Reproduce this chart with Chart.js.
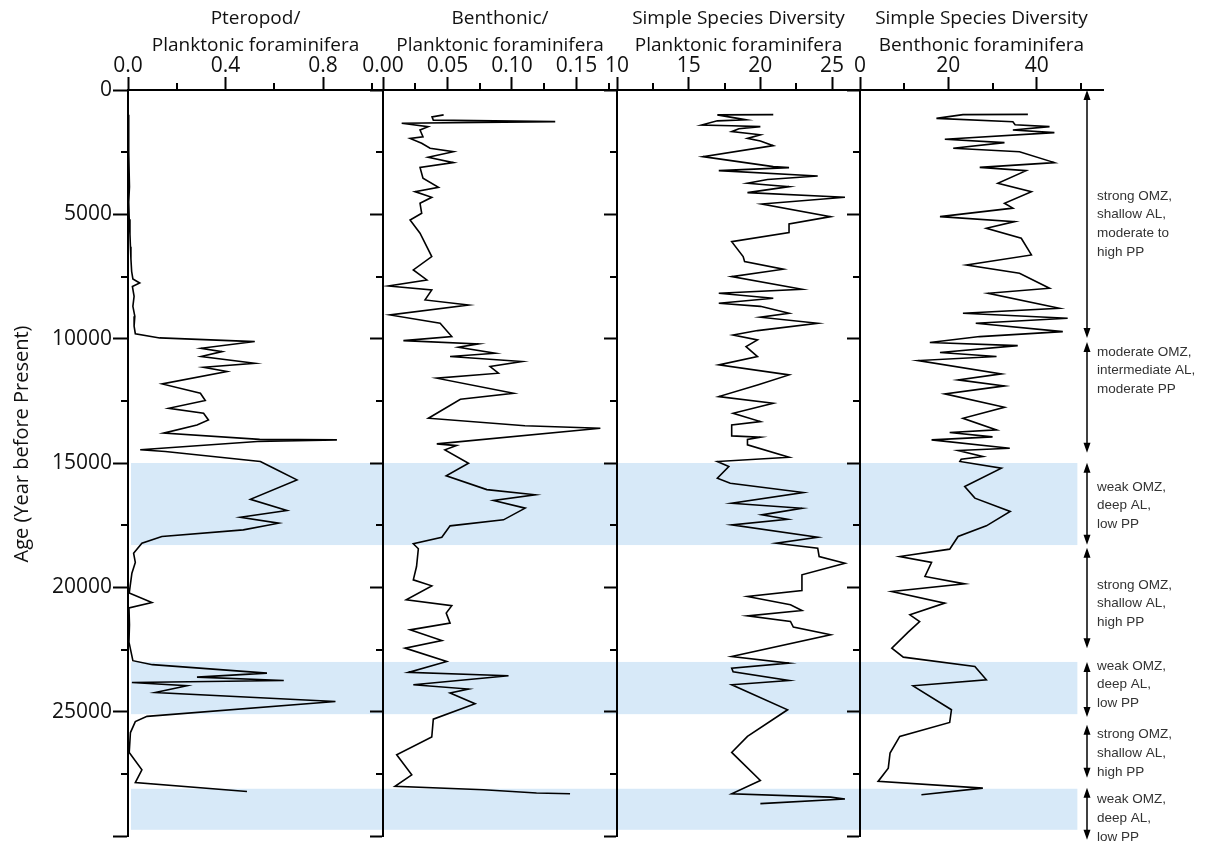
<!DOCTYPE html>
<html lang="en">
<head>
<meta charset="UTF-8">
<title>Foraminifera record</title>
<script src="https://cdn.jsdelivr.net/npm/chart.js"></script>
<style>
  body { margin: 0; background: #fff; }
  #wrap { position: relative; width: 1212px; height: 846px; overflow: hidden; }
  canvas { position: absolute; top: 0; }
</style>
</head>
<body>
<div id="wrap">
  <canvas id="p1" width="383" height="846" style="left:0px"></canvas>
  <canvas id="p2" width="274" height="846" style="left:343px"></canvas>
  <canvas id="p3" width="283" height="846" style="left:577px"></canvas>
  <canvas id="p4" width="392" height="846" style="left:820px"></canvas>
</div>
<script>
// age axis (years before present)
const ageTicks = [0, 5000, 10000, 15000, 20000, 25000, 30000];
const ageLabels = ['0', '5000', '10000', '15000', '20000', '25000', ''];
const ageMinor = [2500, 7500, 12500, 17500, 22500, 27500];
const ageTitle = 'Age (Year before Present)';

// shaded intervals (weak OMZ)
const bandStart = [15000, 23000, 28100];
const bandEnd = [18300, 25100, 29750];

// Pteropod / Planktonic foraminifera
const pteroAge = [1000, 1340, 2500, 3890, 4500, 5200, 5800, 6300, 6800, 7300, 7600, 7760, 7900, 8300, 8700, 9100, 9500, 9800,
  9970, 10117, 10385, 10520, 10720, 10990, 11150, 11320, 11820, 12195, 12490, 12800, 13000, 13270, 13470, 13800,
  14050, 14070, 14137, 14470, 14540, 14940, 15210, 15680, 16460, 16910, 17180, 17420, 17690, 17955, 18225,
  18630, 19000, 19430, 20230, 20610, 20830, 21500, 22200, 22950, 23110, 23450, 23610, 23745, 23825, 23960,
  24230, 24590, 25190, 25400, 25840, 26640, 27340, 27850, 28210];
const pteroVal = [0.003, 0.004, 0.002, 0.006, 0.003, 0.005, 0.008, 0.01, 0.012, 0.015, 0.02, 0.048, 0.018, 0.025, 0.02, 0.028, 0.025, 0.03,
  0.13, 0.52, 0.30, 0.386, 0.30, 0.52, 0.31, 0.406, 0.14, 0.297, 0.317, 0.167, 0.31, 0.33, 0.283, 0.146,
  0.54, 0.857, 0.53, 0.05, 0.153, 0.543, 0.598, 0.693, 0.502, 0.652, 0.461, 0.618, 0.473, 0.139, 0.057,
  0.023, 0.03, 0.016, 0.005, 0.098, 0.004, 0.006, 0.004, 0.02, 0.1, 0.57, 0.283, 0.639, 0.016, 0.242,
  0.112, 0.851, 0.078, 0.03, 0.01, 0.005, 0.057, 0.03, 0.488];

// Benthonic / Planktonic foraminifera
const benthAge = [1000, 1080, 1210, 1270, 1340, 1475, 1610, 1880, 1945, 2145, 2345, 2480, 2706, 2920, 3110, 3550, 3913, 4087,
  4315, 4556, 4958, 5226, 5760, 6700, 7236, 7638, 7880, 8040, 8442, 8643, 9045, 9380, 9916, 10077, 10210, 10345,
  10586, 10720, 10920, 11120, 11390, 11590, 12195, 12435, 13200, 13500, 13600, 14230, 14300, 14470, 15010, 15517,
  16070, 16280, 16510, 16815, 17286, 17527, 17983, 18250, 18450, 19163, 19700, 19940, 20500, 20740, 21036,
  21440, 21710, 22137, 22445, 22980, 23420, 23557, 23919, 24090, 24250, 24680, 25300, 26020, 26730, 27540,
  28000, 28140, 28270, 28300];
const benthVal = [0.047, 0.038, 0.039, 0.1335, 0.0145, 0.035, 0.0287, 0.031, 0.021, 0.03, 0.0365, 0.0546, 0.035, 0.0546, 0.0287, 0.031, 0.043, 0.0248,
  0.0378, 0.0287, 0.03, 0.021, 0.0287, 0.0378, 0.0235, 0.034, 0.0041, 0.0378, 0.0326, 0.0663, 0.0054, 0.0443, 0.0533, 0.0158, 0.074, 0.0585,
  0.087, 0.052, 0.1077, 0.083, 0.0895, 0.0417, 0.1012, 0.06, 0.0352, 0.11, 0.1685, 0.0417, 0.057, 0.048, 0.0663, 0.049,
  0.0805, 0.118, 0.0857, 0.1102, 0.0934, 0.052, 0.0456, 0.0235, 0.0274, 0.026, 0.0235, 0.0378, 0.018, 0.0533, 0.049,
  0.052, 0.021, 0.0456, 0.0171, 0.0494, 0.0197, 0.0973, 0.0235, 0.0663, 0.052, 0.0714, 0.039, 0.0378, 0.0106, 0.0223,
  0.0093, 0.078, 0.119, 0.145];

// Simple species diversity, planktonic foraminifera
const plankDivAge = [990, 1000, 1200, 1240, 1407, 1440, 1474, 1560, 1675, 1800, 1945, 2050, 2237, 2680, 3080, 3120, 3243, 3457,
  3600, 3752, 3886, 4127, 4315, 4583, 5092, 5387, 5735, 6097, 6700, 6900, 7208, 7504, 8013, 8174, 8375, 8576,
  8700, 8978, 9138, 9380, 9675, 9850, 10050, 10320, 10720, 11055, 11457, 11860, 12328, 12595, 13000, 13334,
  13467, 13910, 13960, 14050, 14270, 14766, 14942, 15143, 15611, 15812, 16189, 16617, 16818, 17085, 17260,
  17487, 17983, 18225, 18426, 18760, 19028, 19497, 20125, 20368, 20700, 20930, 21146, 21374, 21600, 21909,
  22780, 23047, 23248, 23400, 23746, 23919, 24924, 25995, 26638, 27764, 28300, 28435, 28514, 28700];
const plankDivVal = [20.9, 17.0, 19.0, 17.0, 15.9, 18.0, 20.0, 18.5, 18.0, 20.0, 19.1, 20.0, 20.9, 16.0, 20.9, 22.0, 17.1, 24.0,
  20.5, 19.1, 22.0, 19.1, 25.9, 20.1, 24.9, 22.0, 22.0, 18.0, 18.8, 18.9, 21.6, 18.0, 22.9, 17.1, 20.9, 17.1,
  20.0, 22.0, 20.0, 24.0, 19.8, 18.1, 19.8, 19.0, 19.8, 17.1, 22.0, 19.8, 17.1, 20.9, 18.1, 20.0,
  18.0, 18.0, 20.0, 19.1, 19.1, 22.0, 17.0, 17.8, 17.0, 17.9, 23.0, 18.0, 22.9, 20.1, 21.9,
  18.0, 24.0, 21.1, 24.0, 24.1, 25.9, 22.9, 22.9, 19.1, 22.1, 22.9, 19.1, 22.1, 22.3, 24.9,
  18.0, 22.0, 18.0, 18.1, 22.0, 18.0, 21.9, 19.1, 18.0, 20.0, 18.0, 24.9, 25.9, 20.0];

// Simple species diversity, benthonic foraminifera
const benthDivAge = [980, 990, 1140, 1274, 1400, 1474, 1608, 1715, 1983, 2117, 2345, 2480, 2920, 3110, 3243, 3752, 4087, 4556,
  4750, 5092, 5293, 5562, 5963, 6633, 7035, 7370, 7972, 8174, 8777, 8978, 9179, 9380, 9715, 9916, 10157, 10278,
  10559, 10720, 10881, 11417, 11658, 11900, 12221, 12756, 13200, 13668, 13776, 13950, 14070, 14404, 14500, 14740,
  14850, 14940, 15210, 15946, 16413, 16950, 17527, 17955, 18465, 18760, 19000, 19563, 19860, 20168, 20635,
  21105, 21374, 21800, 22445, 22807, 23183, 23718, 23960, 24924, 25433, 25995, 26666, 27270, 27805, 28073, 28340];
const benthDivVal = [38.0, 23.3, 17.3, 34.6, 35.1, 42.9, 34.6, 44.0, 19.2, 32.7, 21.1, 36.1, 44.0, 27.1, 37.6, 31.2, 38.8, 32.7,
  34.6, 18.1, 35.0, 28.6, 36.5, 38.8, 24.1, 36.1, 42.9, 29.0, 45.1, 23.3, 47.0, 26.2, 45.9, 27.1, 15.8, 35.7,
  18.1, 30.9, 13.2, 32.0, 22.2, 32.7, 19.2, 32.7, 23.3, 30.9, 20.3, 30.0, 16.2, 33.9, 22.2, 27.8,
  22.9, 22.6, 32.0, 23.7, 26.0, 34.0, 28.6, 22.2, 20.3, 9.0, 16.2, 14.7, 23.7, 7.2, 19.2,
  11.3, 13.5, 10.9, 7.2, 9.8, 26.0, 28.6, 12.0, 20.7, 20.3, 9.0, 6.8, 6.4, 4.1, 27.8, 13.9];

// interpretation column on the right
const noteFrom = [0, 10130, 14990, 18410, 23000, 25530, 28060];
const noteTo = [9970, 14590, 18290, 22450, 25210, 27660, 30150];
const noteAt = [4261, 10532, 15960, 19900, 23155, 25929, 28542];
const noteText = [
  ['strong OMZ,', 'shallow AL,', 'moderate to', 'high PP'],
  ['moderate OMZ,', 'intermediate AL,', 'moderate PP'],
  ['weak OMZ,', 'deep AL,', 'low PP'],
  ['strong OMZ,', 'shallow AL,', 'high PP'],
  ['weak OMZ,', 'deep AL,', 'low PP'],
  ['strong OMZ,', 'shallow AL,', 'high PP'],
  ['weak OMZ,', 'deep AL,', 'low PP']
];

const FONT = '"Open Sans", "Noto Sans", sans-serif';

const bandPlugin = {
  id: 'bands',
  beforeDatasetsDraw(chart, args, opts) {
    const { ctx, chartArea: a, scales: { x, y } } = chart;
    const left = a.left + opts.inset;
    const right = opts.xEnd != null ? x.getPixelForValue(opts.xEnd) : a.right;
    ctx.save();
    ctx.fillStyle = 'rgb(215, 233, 248)';
    bandStart.forEach((s, i) => {
      const t = y.getPixelForValue(s);
      const b = y.getPixelForValue(bandEnd[i]);
      ctx.fillRect(left, t, right - left, b - t);
    });
    ctx.restore();
  }
};

const minorPlugin = {
  id: 'minor',
  afterDraw(chart, args, opts) {
    const { ctx, scales: { x, y } } = chart;
    ctx.save();
    ctx.strokeStyle = '#000';
    ctx.lineWidth = 2;
    ctx.beginPath();
    opts.values.forEach(v => {
      const px = Math.round(x.getPixelForValue(v));
      ctx.moveTo(px, x.bottom);
      ctx.lineTo(px, x.bottom - 7);
    });
    ageMinor.forEach(v => {
      const py = Math.round(y.getPixelForValue(v));
      ctx.moveTo(y.right, py);
      ctx.lineTo(y.right - 7, py);
    });
    ctx.stroke();
    ctx.restore();
  }
};

// rotated age title, sitting a little above the middle of the axis
const ageTitlePlugin = {
  id: 'ageTitle',
  afterDraw(chart, args, opts) {
    if (!opts.show) return;
    const { ctx, scales: { y } } = chart;
    ctx.save();
    ctx.translate(22, (y.top + y.bottom) / 2 - 19);
    ctx.rotate(-Math.PI / 2);
    ctx.font = '20px ' + FONT;
    ctx.fillStyle = '#111';
    ctx.textAlign = 'center';
    ctx.textBaseline = 'middle';
    ctx.fillText(ageTitle, 0, 0);
    ctx.restore();
  }
};

const notesPlugin = {
  id: 'notes',
  afterDraw(chart, args, opts) {
    if (!opts.show) return;
    const { ctx, chartArea: a, scales: { y } } = chart;
    const ax = a.right - 16;
    ctx.save();
    ctx.strokeStyle = '#000';
    ctx.fillStyle = '#000';
    ctx.lineWidth = 1.5;
    noteFrom.forEach((s, i) => {
      const t = y.getPixelForValue(s);
      const b = y.getPixelForValue(noteTo[i]);
      ctx.beginPath();
      ctx.moveTo(ax, t + 4);
      ctx.lineTo(ax, b - 4);
      ctx.stroke();
      ctx.beginPath();
      ctx.moveTo(ax, t); ctx.lineTo(ax - 3.5, t + 10); ctx.lineTo(ax + 3.5, t + 10); ctx.closePath();
      ctx.moveTo(ax, b); ctx.lineTo(ax - 3.5, b - 10); ctx.lineTo(ax + 3.5, b - 10); ctx.closePath();
      ctx.fill();
    });
    ctx.fillStyle = '#333';
    ctx.font = '13.5px "Liberation Sans", Arial, sans-serif';
    ctx.textBaseline = 'middle';
    noteText.forEach((lines, i) => {
      const y0 = y.getPixelForValue(noteAt[i]);
      lines.forEach((txt, j) => ctx.fillText(txt, ax + 10, y0 + j * 18.8));
    });
    ctx.restore();
  }
};

function toPoints(ages, vals) {
  return ages.map((a, i) => ({ x: vals[i], y: a }));
}

function makePanel(id, cfg) {
  const first = !!cfg.first;
  new Chart(document.getElementById(id), {
    type: 'scatter',
    data: {
      datasets: [{
        data: toPoints(cfg.ages, cfg.vals),
        showLine: true,
        borderColor: '#000',
        borderWidth: 1.6,
        pointRadius: 0,
        tension: 0
      }]
    },
    options: {
      responsive: false,
      animation: false,
      layout: { padding: { left: 0, top: 0, right: cfg.padRight || 0, bottom: 10 } },
      plugins: {
        legend: { display: false },
        tooltip: { enabled: false },
        bands: { inset: first ? 3 : 1, xEnd: cfg.bandEnd },
        minor: { values: cfg.minor },
        notes: { show: !!cfg.notes },
        ageTitle: { show: first }
      },
      scales: {
        x: {
          type: 'linear',
          position: 'top',
          min: cfg.min,
          max: cfg.max,
          afterBuildTicks: s => { s.ticks = cfg.major.map(v => ({ value: v })); },
          afterFit: s => { s.height = 90; s.paddingLeft = 0; s.paddingRight = 0; },
          grid: { drawOnChartArea: false, drawTicks: true, tickLength: 13, tickWidth: 2, tickColor: '#000' },
          border: { display: true, color: '#000', width: 2 },
          ticks: {
            autoSkip: false, maxRotation: 0, padding: 0, color: '#111',
            font: { family: FONT, size: 21, lineHeight: 1 },
            callback: v => v.toFixed(cfg.dec)
          },
          title: {
            display: true, text: cfg.title, color: '#111',
            font: { family: FONT, size: 19, lineHeight: 1.42 },
            padding: { top: 5, bottom: 0 }
          }
        },
        y: {
          type: 'linear',
          position: 'left',
          reverse: true,
          min: 0,
          max: 30000,
          afterBuildTicks: s => { s.ticks = ageTicks.map(v => ({ value: v })); },
          afterFit: s => { s.width = first ? 128 : 40; s.paddingTop = 0; s.paddingBottom = 0; },
          grid: { drawOnChartArea: false, drawTicks: true, tickLength: first ? 15 : 13, tickWidth: 2, tickColor: '#000' },
          border: { display: true, color: '#000', width: 2 },
          ticks: {
            display: first, autoSkip: false, padding: 1, color: '#111',
            font: { family: FONT, size: 21 },
            callback: (v, i) => ageLabels[i]
          }
        }
      }
    },
    plugins: [bandPlugin, minorPlugin, notesPlugin, ageTitlePlugin]
  });
}

makePanel('p1', {
  first: true, ages: pteroAge, vals: pteroVal, min: 0, max: 1.046, dec: 1,
  major: [0, 0.4, 0.8], minor: [0.2, 0.6, 1.0],
  title: ['Pteropod/', 'Planktonic foraminifera']
});
makePanel('p2', {
  ages: benthAge, vals: benthVal, min: 0, max: 0.1814, dec: 2,
  major: [0, 0.05, 0.10, 0.15], minor: [0.025, 0.075, 0.125, 0.175],
  title: ['Benthonic/', 'Planktonic foraminifera']
});
makePanel('p3', {
  ages: plankDivAge, vals: plankDivVal, min: 10, max: 26.95, dec: 0,
  major: [10, 15, 20, 25], minor: [12.5, 17.5, 22.5],
  title: ['Simple Species Diversity', 'Planktonic foraminifera']
});
makePanel('p4', {
  ages: benthDivAge, vals: benthDivVal, min: 0, max: 55, dec: 0,
  major: [0, 20, 40], minor: [10, 30, 50],
  title: ['Simple Species Diversity', 'Benthonic foraminifera'],
  padRight: 109, bandEnd: 49.2, notes: true
});
</script>
</body>
</html>
